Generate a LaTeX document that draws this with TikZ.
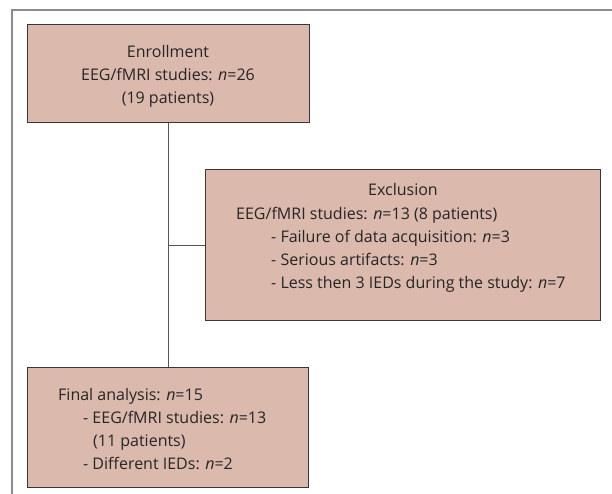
\documentclass[tikz,border=0pt]{standalone}
\usepackage{fontspec}
\setmainfont{Open Sans}
\definecolor{boxfill}{RGB}{219,185,173}
\definecolor{boxedge}{RGB}{60,55,55}
\definecolor{linegray}{RGB}{85,85,85}
\definecolor{framegray}{RGB}{140,140,140}
\begin{document}
\begin{tikzpicture}[x=1pt,y=-1pt,
  box/.style={draw=boxedge, fill=boxfill, line width=0.9pt, inner sep=0pt, anchor=north west},
  conn/.style={draw=linegray, line width=0.9pt},
  framel/.style={draw=framegray, line width=1.3pt},
  ltxt/.style={inner sep=0pt, anchor=base west, font=\fontsize{16}{19}\selectfont, text=black!85},
  ctxt/.style={inner sep=0pt, anchor=base, font=\fontsize{16}{19}\selectfont, text=black!85}]
\useasboundingbox (0,0) rectangle (612,494);
% outer frame (top and left edges)
\coordinate (ftr) at (612,10);
\coordinate (ftl) at (12,10);
\coordinate (fbl) at (12,494);
\draw[framel] (ftr) -- (ftl) -- (fbl);
% boxes
\node[box, minimum width=282pt, minimum height=98pt] (enr) at (27,24) {};
\node[box, minimum width=395pt, minimum height=151pt] (exc) at (205,169) {};
\node[box, minimum width=281pt, minimum height=120pt] (fin) at (27,367) {};
% connectors
\coordinate (j) at (enr.south |- exc.west);
\draw[conn] (enr.south) -- (enr.south |- fin.north);
\draw[conn] (j) -- (exc.west);
% enrollment text
\node[ctxt] (e1) at (168,58) {Enrollment};
\node[ctxt] (e2) at (168,81) {EEG/fMRI studies: \textit{n}=26};
\node[ctxt] (e3) at (168,104) {(19 patients)};
% exclusion text
\node[ctxt] (x1) at (403,196) {Exclusion};
\node[ltxt] (x2) at (236,219) {EEG/fMRI studies: \textit{n}=13 (8 patients)};
\node[ltxt] (x3) at (271,242) {- Failure of data acquisition: \textit{n}=3};
\node[ltxt] (x4) at (271,265) {- Serious artifacts: \textit{n}=3};
\node[ltxt] (x5) at (271,288) {- Less then 3 IEDs during the study: \textit{n}=7};
% final analysis text
\node[ltxt] (f1) at (58,400) {Final analysis: \textit{n}=15};
\node[ltxt] (f2) at (83,423) {- EEG/fMRI studies: \textit{n}=13};
\node[ltxt] (f3) at (93,446) {(11 patients)};
\node[ltxt] (f4) at (83,469) {- Different IEDs: \textit{n}=2};
\end{tikzpicture}
\end{document}
